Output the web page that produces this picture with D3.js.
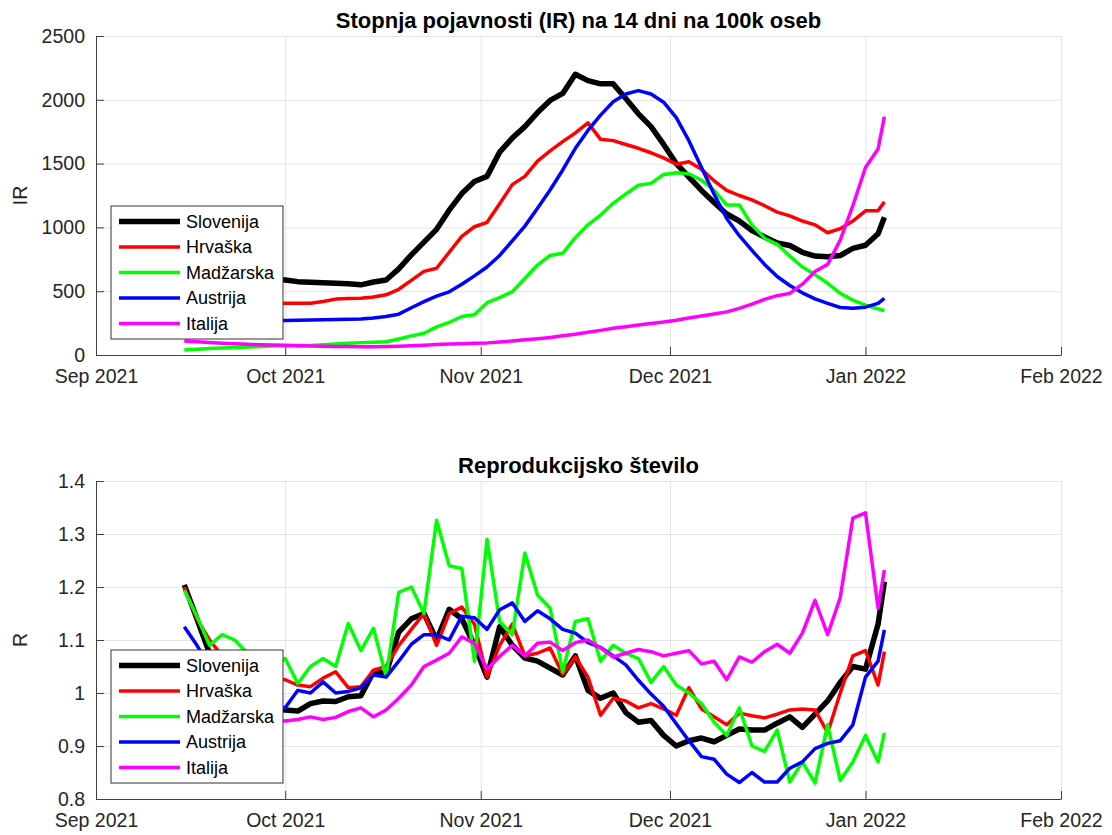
<!DOCTYPE html>
<html>
<head>
<meta charset="utf-8">
<script src="https://cdn.jsdelivr.net/npm/d3@7"></script>
<style>
    body { margin: 0; background: #ffffff; }
    svg text { font-family: "Liberation Sans", Arial, Helvetica, sans-serif; }
</style>
</head>
<body>
<svg id="chart" width="1112" height="835"></svg>
<script>
"use strict";

// countries, in the order they are plotted
const countries = ["Slovenija", "Hrvaška", "Madžarska", "Austrija", "Italija"];

// one value every second day from 15 Sep 2021, the last one on 4 Jan 2022
const firstDay = new Date(2021, 8, 15);
const lastDay = new Date(2022, 0, 4);
const dates = d3.timeDay.range(firstDay, lastDay, 2).concat([lastDay]);

// 14-day incidence per 100k
const irSlovenija = [610, 605, 600, 598, 595, 592, 590, 589, 587, 575,
    570, 566, 562, 558, 550, 572, 588, 675, 785, 885,
    985, 1135, 1265, 1360, 1400, 1590, 1700, 1790, 1900, 1995,
    2050, 2200, 2150, 2125, 2125, 2010, 1890, 1790, 1650, 1500,
    1395, 1290, 1195, 1105, 1050, 975, 925, 878, 858, 805,
    775, 770, 780, 835, 860, 950, 1080];
const irHrvaska = [420, 415, 410, 408, 405, 404, 403, 403, 405, 405,
    406, 420, 438, 442, 445, 455, 472, 515, 585, 655,
    680, 805, 930, 1005, 1040, 1185, 1335, 1400, 1520, 1600,
    1672, 1740, 1820, 1690, 1680, 1650, 1620, 1585, 1545, 1495,
    1515, 1455, 1365, 1290, 1250, 1215, 1170, 1120, 1090, 1050,
    1020, 958, 990, 1050, 1130, 1130, 1200];
const irMadzarska = [40, 45, 50, 55, 58, 62, 66, 70, 73, 74,
    75, 80, 87, 92, 97, 100, 104, 125, 150, 170,
    220, 255, 302, 315, 410, 450, 496, 600, 705, 780,
    797, 920, 1020, 1097, 1189, 1262, 1330, 1345, 1415, 1428,
    1420, 1370, 1290, 1176, 1176, 1020, 915, 868, 775, 690,
    630, 562, 483, 430, 390, 362, 347];
const irAustrija = [275, 272, 270, 268, 266, 266, 267, 268, 270, 272,
    274, 276, 278, 280, 283, 290, 302, 320, 370, 418,
    462, 495, 555, 620, 690, 780, 895, 1010, 1150, 1293,
    1450, 1620, 1760, 1880, 1985, 2045, 2072, 2045, 1981, 1860,
    1680, 1470, 1260, 1070, 935, 820, 710, 615, 545, 487,
    440, 405, 372, 366, 375, 405, 444];
const irItalija = [110, 104, 98, 93, 88, 84, 80, 78, 76, 73,
    71, 69, 67, 66, 65, 65, 66, 68, 72, 77,
    82, 86, 89, 92, 95, 102, 110, 119, 128, 138,
    150, 163, 178, 193, 209, 222, 235, 247, 259, 272,
    290, 305, 322, 338, 365, 398, 436, 465, 483, 555,
    655, 710, 900, 1170, 1470, 1615, 1868];

// reproduction number
const rSlovenija = [1.204, 1.14, 1.075, 1.04, 1.01, 0.99, 0.975, 0.97, 0.968, 0.966,
    0.98, 0.985, 0.984, 0.993, 0.995, 1.04, 1.037, 1.115, 1.14, 1.15,
    1.10, 1.158, 1.14, 1.09, 1.03, 1.125, 1.09, 1.066, 1.06, 1.047,
    1.034, 1.07, 1.005, 0.99, 1.0, 0.963, 0.945, 0.948, 0.92, 0.9,
    0.91, 0.915, 0.908, 0.92, 0.932, 0.93, 0.93, 0.943, 0.955, 0.935,
    0.96, 0.985, 1.02, 1.05, 1.045, 1.13, 1.21];
const rHrvaska = [1.20, 1.14, 1.10, 1.07, 1.05, 1.04, 1.035, 1.03, 1.025, 1.015,
    1.012, 1.028, 1.04, 1.01, 1.012, 1.043, 1.05, 1.09, 1.12, 1.15,
    1.09, 1.15, 1.162, 1.13, 1.03, 1.09, 1.13, 1.07, 1.075, 1.085,
    1.035, 1.068, 1.03, 0.958, 0.99, 0.985, 0.972, 0.98, 0.97, 0.958,
    1.01, 0.97, 0.955, 0.94, 0.962, 0.957, 0.953, 0.96, 0.968, 0.97,
    0.968, 0.925, 1.0, 1.07, 1.08, 1.015, 1.078];
const rMadzarska = [1.194, 1.145, 1.09, 1.11, 1.10, 1.075, 1.06, 1.05, 1.065, 1.018,
    1.05, 1.065, 1.05, 1.131, 1.08, 1.122, 1.031, 1.19, 1.20, 1.15,
    1.326, 1.24, 1.235, 1.06, 1.29, 1.135, 1.11, 1.264, 1.185, 1.16,
    1.04, 1.135, 1.14, 1.06, 1.09, 1.075, 1.065, 1.02, 1.05, 1.015,
    1.0, 0.98, 0.945, 0.92, 0.972, 0.90, 0.89, 0.93, 0.832, 0.87,
    0.83, 0.94, 0.835, 0.87, 0.92, 0.87, 0.925];
const rAustrija = [1.125, 1.09, 1.05, 1.02, 1.0, 0.99, 0.98, 0.975, 0.972, 1.005,
    1.0, 1.021, 1.0, 1.003, 1.01, 1.034, 1.03, 1.06, 1.092, 1.11,
    1.11, 1.1, 1.145, 1.142, 1.12, 1.157, 1.17, 1.135, 1.155, 1.14,
    1.12, 1.113, 1.095, 1.086, 1.07, 1.053, 1.024, 0.998, 0.975, 0.942,
    0.91, 0.88, 0.875, 0.847, 0.831, 0.85, 0.832, 0.832, 0.858, 0.87,
    0.895, 0.905, 0.91, 0.94, 1.03, 1.06, 1.119];
const rItalija = [0.98, 0.97, 0.965, 0.96, 0.955, 0.95, 0.95, 0.948, 0.947, 0.95,
    0.955, 0.95, 0.954, 0.965, 0.972, 0.955, 0.968, 0.99, 1.015, 1.05,
    1.062, 1.075, 1.106, 1.094, 1.045, 1.069, 1.09, 1.07, 1.094, 1.096,
    1.08, 1.095, 1.10, 1.085, 1.068, 1.075, 1.082, 1.078, 1.07, 1.075,
    1.08, 1.055, 1.06, 1.025, 1.068, 1.058, 1.078, 1.092, 1.075, 1.113,
    1.175, 1.11, 1.18, 1.33, 1.34, 1.16, 1.232];

// axis ticks
const irTicks = [0, 500, 1000, 1500, 2000, 2500];
const rTicks = [0.8, 0.9, 1, 1.1, 1.2, 1.3, 1.4];
const monthTicks = d3.timeMonth.range(new Date(2021, 8, 1), new Date(2022, 1, 2));

// line styles (MATLAB colours)
const lineColors = ["#000000", "#ff0000", "#00ff00", "#0000ff", "#ff00ff"];
const lineWidths = [5.5, 3.5, 3.5, 3.5, 3.5];

const svg = d3.select("#chart");
const left = 96, right = 1061;
const tickFont = "19.5px";

const x = d3.scaleTime()
    .domain([new Date(2021, 8, 1), new Date(2022, 1, 1)])
    .range([left, right]);

// draws one subplot
function drawPanel(opts) {
    const y = d3.scaleLinear().domain(opts.domain).range([opts.bottom, opts.top]);
    const g = svg.append("g");

    // grid
    g.append("g")
        .attr("transform", `translate(0,${opts.bottom})`)
        .call(d3.axisBottom(x).tickValues(monthTicks).tickSize(-(opts.bottom - opts.top)).tickFormat(""))
        .call(a => a.select(".domain").remove())
        .selectAll("line").attr("stroke", "#e4e4e4");
    g.append("g")
        .attr("transform", `translate(${left},0)`)
        .call(d3.axisLeft(y).tickValues(opts.ticks).tickSize(-(right - left)).tickFormat(""))
        .call(a => a.select(".domain").remove())
        .selectAll("line").attr("stroke", "#e4e4e4");

    // data lines
    const line = d3.line()
        .x((d, i) => x(dates[i]))
        .y(d => y(d));
    opts.series.forEach((values, k) => {
        g.append("path")
            .datum(values)
            .attr("fill", "none")
            .attr("stroke", lineColors[k])
            .attr("stroke-width", lineWidths[k])
            .attr("stroke-linejoin", "round")
            .attr("d", line);
    });

    // axes
    const xAxis = g.append("g")
        .attr("transform", `translate(0,${opts.bottom})`)
        .call(d3.axisBottom(x).tickValues(monthTicks)
            .tickFormat(d3.timeFormat("%b %Y"))
            .tickSize(-8).tickSizeOuter(0).tickPadding(14));
    const yAxis = g.append("g")
        .attr("transform", `translate(${left},0)`)
        .call(d3.axisLeft(y).tickValues(opts.ticks)
            .tickFormat(opts.format)
            .tickSize(-8).tickSizeOuter(0).tickPadding(11));
    [xAxis, yAxis].forEach(a => {
        a.select(".domain").attr("stroke", "#404040");
        a.selectAll(".tick line").attr("stroke", "#404040");
        a.selectAll("text")
            .attr("fill", "#262626")
            .style("font-size", tickFont);
    });

    // axis label
    g.append("text")
        .attr("transform", `translate(27,${(opts.top + opts.bottom) / 2}) rotate(-90)`)
        .attr("text-anchor", "middle")
        .attr("fill", "#262626")
        .style("font-size", tickFont)
        .text(opts.label);

    // title
    g.append("text")
        .attr("x", (left + right) / 2)
        .attr("y", opts.titleY)
        .attr("text-anchor", "middle")
        .attr("fill", "#000000")
        .style("font-size", "22px")
        .style("font-weight", "bold")
        .text(opts.title);

    // legend
    const lg = g.append("g").attr("transform", `translate(111,${opts.legendY})`);
    lg.append("rect")
        .attr("width", 172).attr("height", 133)
        .attr("fill", "#ffffff")
        .attr("stroke", "#333333")
        .attr("stroke-width", 1);
    countries.forEach((name, k) => {
        const cy = 15.5 + k * 25.5;
        lg.append("line")
            .attr("x1", 8).attr("x2", 69)
            .attr("y1", cy).attr("y2", cy)
            .attr("stroke", lineColors[k])
            .attr("stroke-width", lineWidths[k]);
        lg.append("text")
            .attr("x", 75).attr("y", cy)
            .attr("dy", "0.35em")
            .attr("fill", "#000000")
            .style("font-size", "18px")
            .text(name);
    });
}

drawPanel({
    domain: [0, 2500], top: 36, bottom: 355,
    ticks: irTicks, format: d3.format("d"),
    series: [irSlovenija, irHrvaska, irMadzarska, irAustrija, irItalija],
    label: "IR",
    title: "Stopnja pojavnosti (IR) na 14 dni na 100k oseb", titleY: 28,
    legendY: 206
});

drawPanel({
    domain: [0.8, 1.4], top: 481, bottom: 799,
    ticks: rTicks, format: v => String(+v.toFixed(1)),
    series: [rSlovenija, rHrvaska, rMadzarska, rAustrija, rItalija],
    label: "R",
    title: "Reprodukcijsko število", titleY: 473,
    legendY: 650
});
</script>
</body>
</html>
